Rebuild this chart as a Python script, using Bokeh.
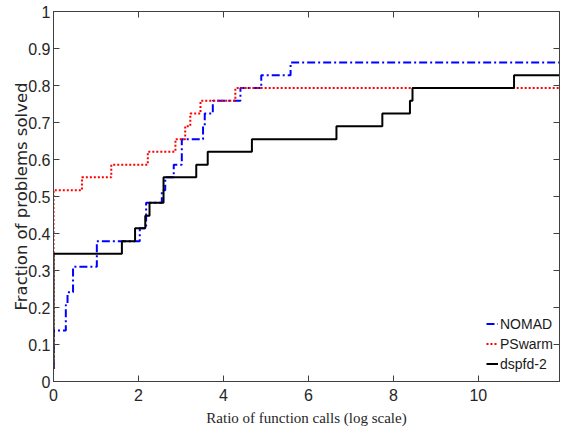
from bokeh.plotting import figure
from bokeh.models import LinearAxis, Range1d, FixedTicker, Legend, LegendItem, CustomLabelingPolicy
from bokeh.embed import file_html
from bokeh.resources import INLINE

# ---- data (performance profiles, step positions and fraction solved after each step) ----
nomad_x = [0, 0, 0.29, 0.33, 0.46, 1.02, 2.03, 2.18, 2.55, 2.63, 2.83, 3.02, 3.52, 3.56, 3.75, 4.40, 4.89, 5.58, 11.91]
nomad_y = [0.034, 0.138, 0.207, 0.241, 0.310, 0.379, 0.414, 0.483, 0.517, 0.552, 0.586, 0.655, 0.690, 0.724, 0.759, 0.793, 0.828, 0.862, 0.862]

pswarm_x = [0, 0, 0.67, 1.36, 2.22, 2.87, 3.10, 3.22, 3.46, 4.28, 11.91]
pswarm_y = [0.034, 0.517, 0.552, 0.586, 0.621, 0.655, 0.690, 0.724, 0.759, 0.793, 0.793]

dspfd_x = [0, 0, 1.61, 1.92, 2.16, 2.26, 2.59, 3.36, 3.63, 4.67, 6.66, 7.74, 8.39, 8.45, 10.84, 11.91]
dspfd_y = [0.034, 0.345, 0.379, 0.414, 0.448, 0.483, 0.552, 0.586, 0.621, 0.655, 0.690, 0.724, 0.759, 0.793, 0.828, 0.828]

x_ticks = [0, 2, 4, 6, 8, 10]
y_ticks = [0, 0.1, 0.2, 0.3, 0.4, 0.5, 0.6, 0.7, 0.8, 0.9, 1]
y_tick_labels = ["0", "0.1", "0.2", "0.3", "0.4", "0.5", "0.6", "0.7", "0.8", "0.9", "1"]

series_names = ["NOMAD", "PSwarm", "dspfd-2"]

TICK_FONT = "Liberation Sans"
AX_COL = "#404040"
TXT_COL = "#262626"

p = figure(width=563, height=433, output_backend="svg", toolbar_location=None,
           x_range=Range1d(0, 11.91), y_range=Range1d(0, 1),
           min_border_left=53, min_border_right=4, min_border_top=11, min_border_bottom=52,
           x_axis_label="Ratio of function calls (log scale)",
           y_axis_label="Fraction of problems solved")
p.grid.visible = False
p.outline_line_color = AX_COL
p.outline_line_width = 1
p.background_fill_color = "white"
p.border_fill_color = "white"

for ax in [p.xaxis[0], p.yaxis[0]]:
    ax.major_tick_in = 6
    ax.major_tick_out = 0
    ax.minor_tick_line_color = None
    ax.axis_line_color = AX_COL
    ax.major_tick_line_color = AX_COL
    ax.major_label_text_font = TICK_FONT
    ax.major_label_text_font_size = "16px"
    ax.major_label_text_color = TXT_COL

p.xaxis[0].ticker = FixedTicker(ticks=x_ticks)
p.yaxis[0].ticker = FixedTicker(ticks=y_ticks)
p.yaxis[0].major_label_overrides = {t: l for t, l in zip(y_ticks, y_tick_labels)}
p.xaxis[0].major_label_standoff = 7
p.yaxis[0].major_label_standoff = 3

p.xaxis[0].axis_label_text_font = "Liberation Serif"
p.xaxis[0].axis_label_text_font_size = "15px"
p.xaxis[0].axis_label_text_font_style = "normal"
p.xaxis[0].axis_label_text_color = TXT_COL
p.xaxis[0].axis_label_standoff = 6

p.yaxis[0].axis_label_text_font = "DejaVu Sans"
p.yaxis[0].axis_label_text_font_size = "16.5px"
p.yaxis[0].axis_label_text_font_style = "normal"
p.yaxis[0].axis_label_text_color = TXT_COL
p.yaxis[0].axis_label_standoff = -6

# mirrored ticks on top and right (no labels)
top = LinearAxis(ticker=FixedTicker(ticks=x_ticks))
right = LinearAxis(ticker=FixedTicker(ticks=y_ticks))
for ax in [top, right]:
    ax.major_tick_in = 6
    ax.major_tick_out = 0
    ax.minor_tick_line_color = None
    ax.axis_line_color = AX_COL
    ax.major_tick_line_color = AX_COL
    ax.major_label_standoff = 0
    ax.major_label_text_font_size = "1px"
    ax.major_label_policy = CustomLabelingPolicy(code="return new Set()")
p.add_layout(top, "above")
p.add_layout(right, "right")

r1 = p.step(nomad_x, nomad_y, mode="after", line_color="#0000ff", line_width=2, line_dash="8 3 2 3")
r2 = p.step(pswarm_x, pswarm_y, mode="after", line_color="#ff0000", line_width=2, line_dash="2 2")
r3 = p.step(dspfd_x, dspfd_y, mode="after", line_color="black", line_width=2)

legend = Legend(items=[LegendItem(label=series_names[0], renderers=[r1]),
                       LegendItem(label=series_names[1], renderers=[r2]),
                       LegendItem(label=series_names[2], renderers=[r3])],
                location=(433, 9))
legend.border_line_color = None
legend.background_fill_alpha = 0
legend.label_text_font = "Liberation Sans"
legend.label_text_font_size = "14px"
legend.label_text_color = "#1a1a1a"
legend.glyph_width = 12
legend.glyph_height = 17
legend.label_height = 17
legend.label_standoff = 2
legend.spacing = 3
legend.padding = 0
legend.margin = 0
p.add_layout(legend)

open("out.html", "w").write(file_html(p, INLINE))
